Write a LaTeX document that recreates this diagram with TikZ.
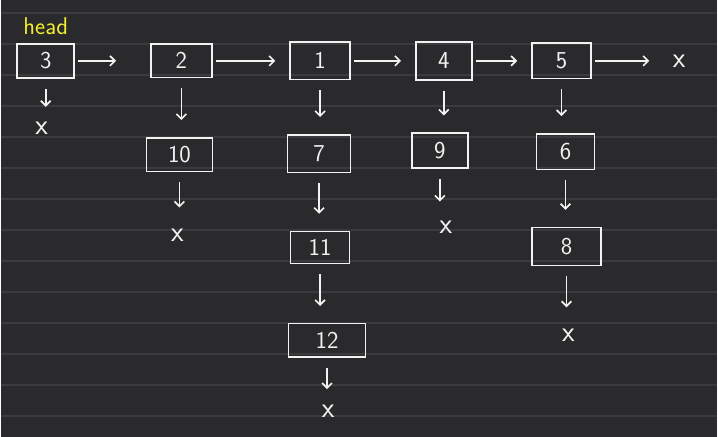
\documentclass[tikz,border=0pt]{standalone}
\usepackage{tikz}
\usetikzlibrary{arrows.meta}
\definecolor{board}{HTML}{2A2A2D}
\definecolor{ruling}{HTML}{3B3B3F}
\definecolor{chalk}{HTML}{F2F2F0}
\definecolor{marker}{HTML}{F3EC2E}
\tikzset{cell/.style={draw=chalk,line width=1.2pt,text=chalk,font=\sffamily\LARGE,inner sep=0pt}}
\tikzset{nil/.style={text=chalk,font=\sffamily\huge,inner sep=1pt}}
\tikzset{link/.style={draw=chalk,line width=1.2pt,-{Straight Barb[length=3.5pt,width=7pt]},shorten <=0.08cm,shorten >=0.35cm}}
\tikzset{drop/.style={link,shorten <=0.25cm,shorten >=0.42cm}}

\begin{document}
\begin{tikzpicture}[x=0.025cm,y=-0.025cm]
\fill[board] (0,0) rectangle (718,438);
\foreach \k in {0,...,13}
  \draw[ruling,line width=1.2pt] (0,13+31.1*\k) -- (718,13+31.1*\k);
\useasboundingbox (0,0) rectangle (718,438);

\node[text=marker,font=\sffamily\LARGE,inner sep=0pt] (head) at (45,26) {head};

\node[cell,minimum width=1.43cm,minimum height=0.85cm] (v3) at (45,61) {3};
\node[cell,minimum width=1.53cm,minimum height=0.83cm] (v2) at (181,61) {2};
\node[cell,minimum width=1.5cm,minimum height=0.93cm] (v1) at (320,61) {1};
\node[cell,minimum width=1.4cm,minimum height=0.95cm] (v4) at (444,61) {4};
\node[cell,minimum width=1.48cm,minimum height=0.88cm] (v5) at (562,61) {5};
\node[nil] (x5) at (680,61) {x};

\node[cell,minimum width=1.65cm,minimum height=0.85cm] (v10) at (179,155) {10};
\node[cell,minimum width=1.58cm,minimum height=0.95cm] (v7) at (319,154) {7};
\node[cell,minimum width=1.4cm,minimum height=0.88cm] (v9) at (440,151) {9};
\node[cell,minimum width=1.45cm,minimum height=0.9cm] (v6) at (566,152) {6};
\node[cell,minimum width=1.48cm,minimum height=0.8cm] (v11) at (320,248) {11};
\node[cell,minimum width=1.93cm,minimum height=0.83cm] (v12) at (327,341) {12};
\node[cell,minimum width=1.73cm,minimum height=0.95cm] (v8) at (567,247) {8};

\node[nil] (x3) at (41,129) {x};
\node[nil] (x10) at (177,236) {x};
\node[nil] (x9) at (446,228) {x};
\node[nil] (x12) at (328,412) {x};
\node[nil] (x8) at (569,336) {x};

\draw[link,shorten >=0.85cm] (v3) -- (v2);
\draw[link] (v2) -- (v1);
\draw[link] (v1) -- (v4);
\draw[link] (v4) -- (v5);
\draw[link,shorten >=0.55cm] (v5) -- (x5);

\draw[drop,shorten >=0.35cm] (v3) -- (v3 |- x3.north);
\draw[drop] (v2) -- (v2 |- v10.north);
\draw[drop] (v1) -- (v1 |- v7.north);
\draw[drop] (v4) -- (v4 |- v9.north);
\draw[drop] (v5) -- (v5 |- v6.north);
\draw[drop,shorten >=0.5cm] (v10) -- (v10 |- x10.north);
\draw[drop] (v7) -- (v7 |- v11.north);
\draw[drop,shorten >=0.45cm] (v9) -- (v9 |- x9.north);
\draw[drop] (v6) -- (v6 |- v8.north);
\draw[drop] (v11) -- (v11 |- v12.north);
\draw[drop,shorten >=0.5cm] (v8) -- (v8 |- x8.north);
\draw[drop,shorten >=0.35cm] (v12) -- (v12 |- x12.north);
\end{tikzpicture}
\end{document}
